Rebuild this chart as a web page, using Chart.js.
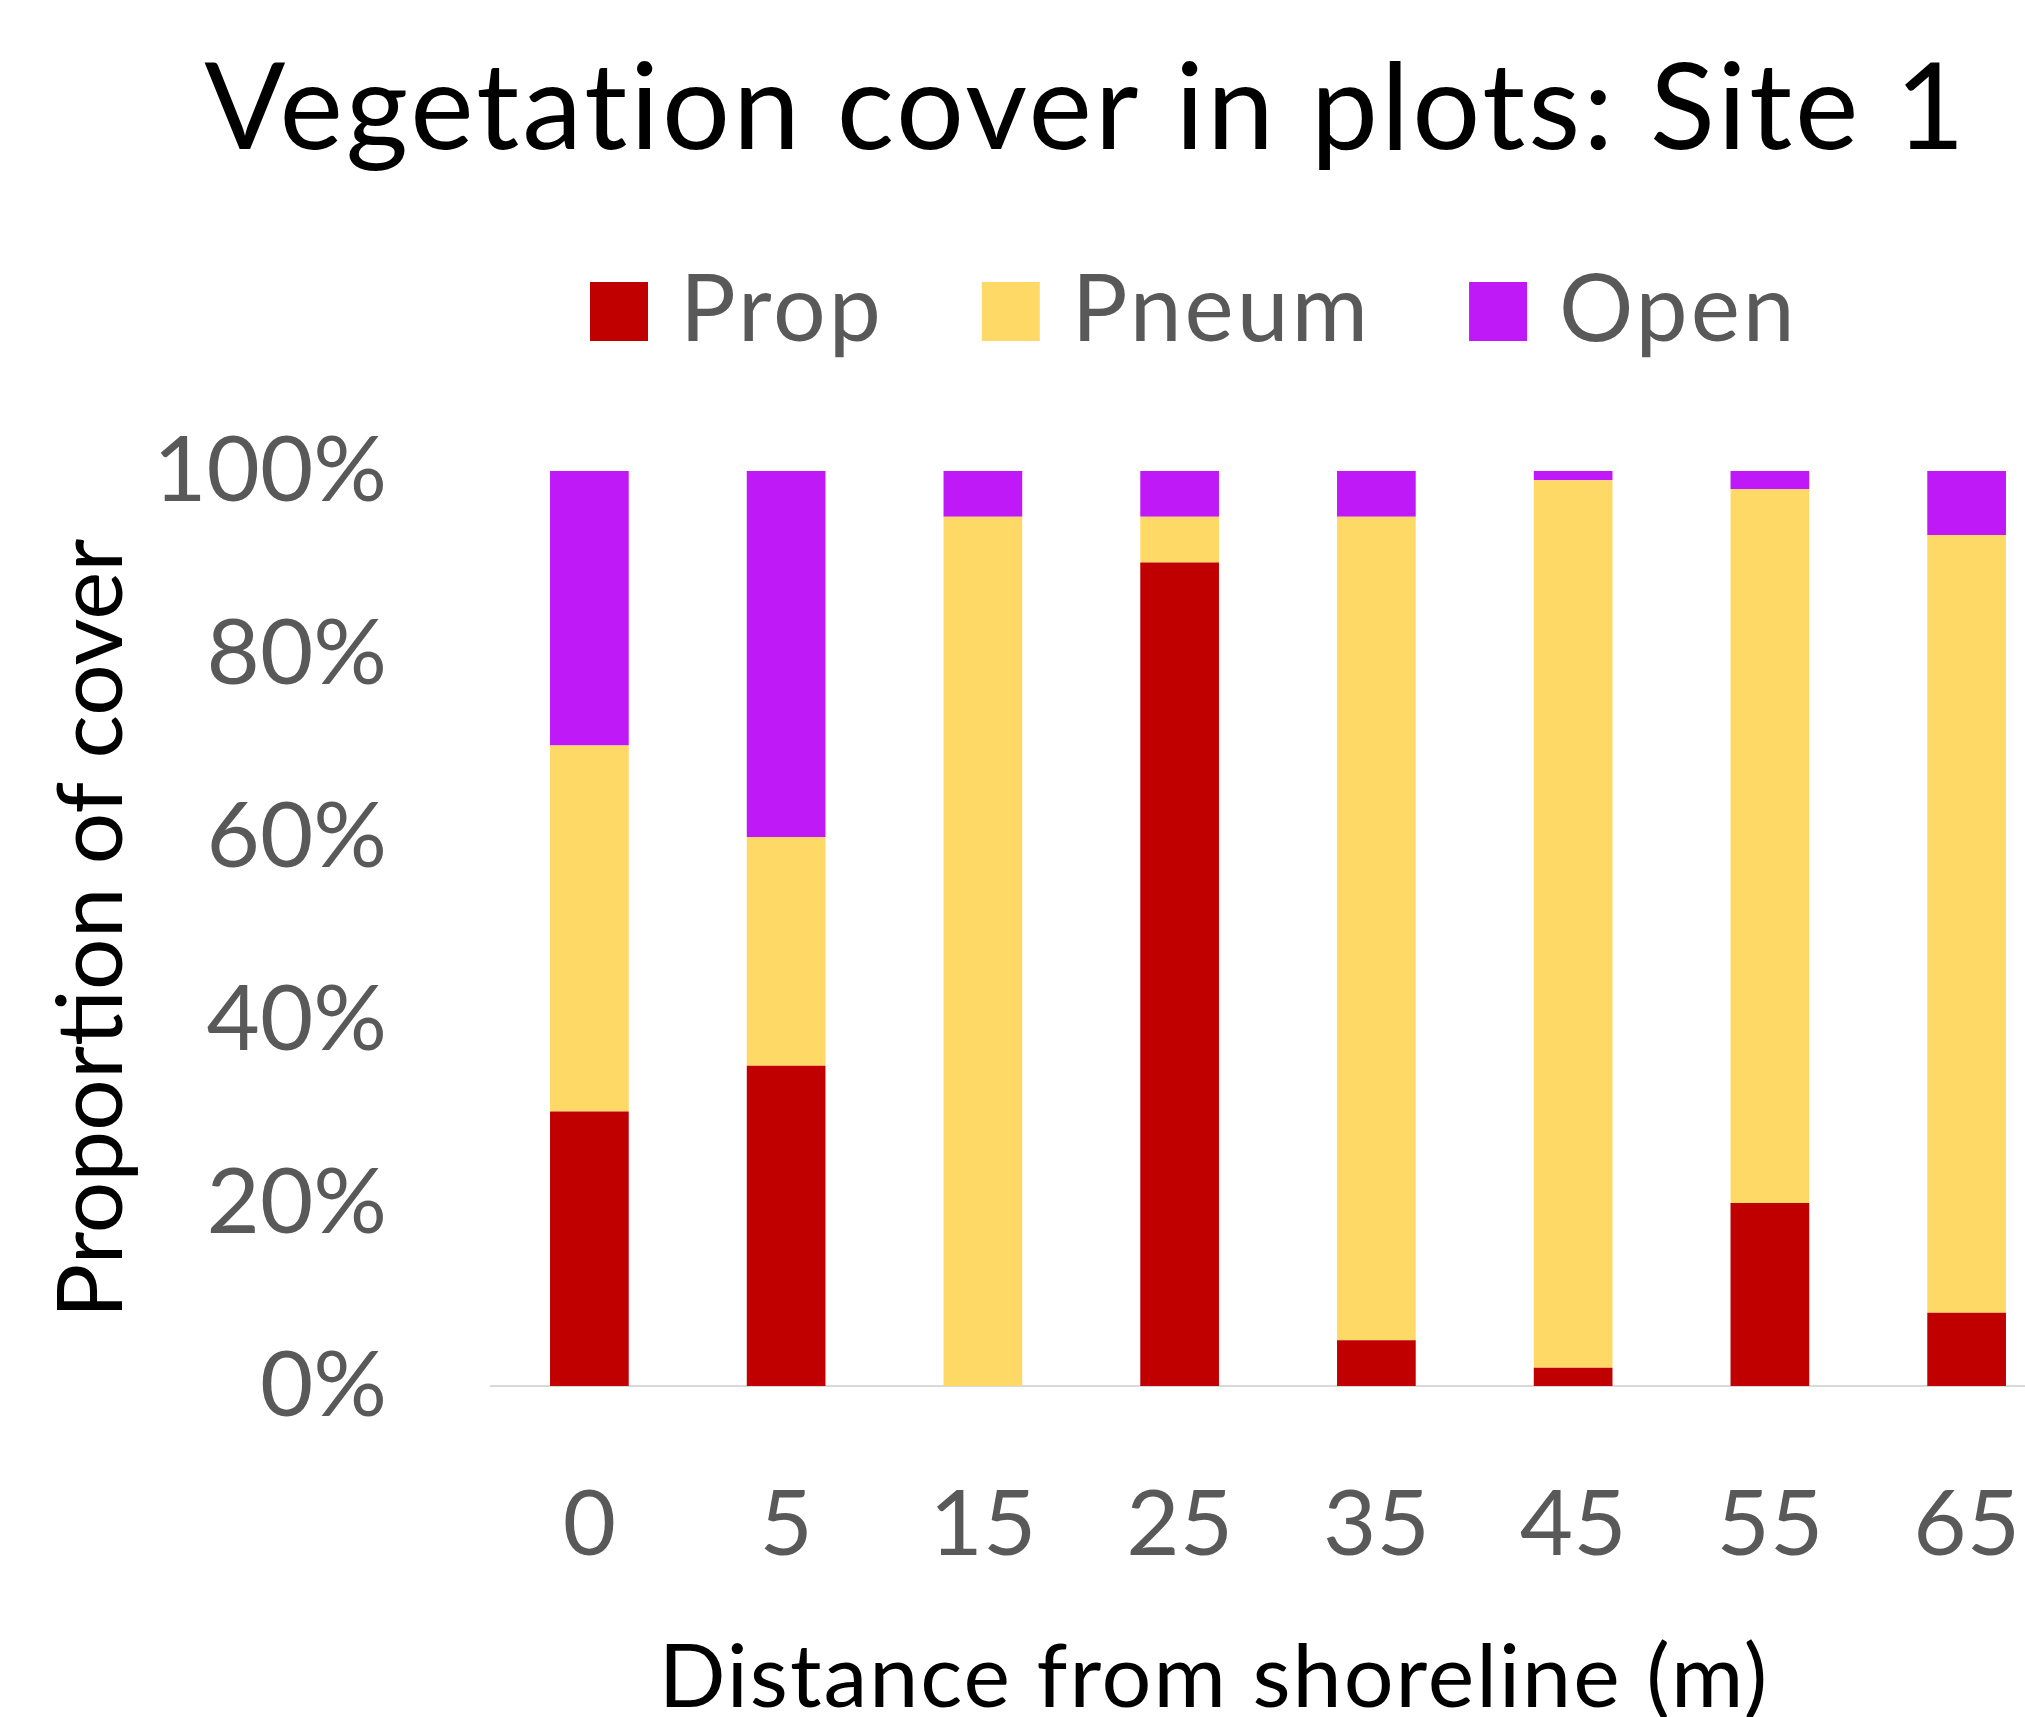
<!DOCTYPE html>
<html>
<head>
<meta charset="utf-8">
<title>Vegetation cover in plots: Site 1</title>
<script src="https://cdn.jsdelivr.net/npm/chart.js@4/dist/chart.umd.min.js"></script>
<style>
  html, body { margin: 0; padding: 0; background: #fff; }
  #wrap { width: 2025px; height: 1717px; overflow: hidden; position: relative; }
  #myChart { display: block; }
</style>
</head>
<body>
<div id="wrap"><canvas id="myChart" width="2100" height="1717"></canvas></div>
<script>
'use strict';

// distance from shoreline (m)
var distances = ['0', '5', '15', '25', '35', '45', '55', '65'];
// proportion of cover, percent
var propCover  = [30, 35, 0, 90, 5, 2, 20, 8];
var pneumCover = [40, 25, 95, 5, 90, 97, 78, 85];
var openCover  = [30, 40, 5, 5, 5, 1, 2, 7];
var yTicks = [0, 20, 40, 60, 80, 100];

var FONT = 'Lato, "Open Sans", sans-serif';

// title, legend and x axis title are placed by hand, Excel centres them differently
var textPlugin = {
  id: 'excelText',
  afterDraw: function (chart) {
    var ctx = chart.ctx;
    ctx.save();
    ctx.textBaseline = 'alphabetic';

    ctx.fillStyle = '#000';
    ctx.font = '120px ' + FONT;
    ctx.letterSpacing = '3px';
    ctx.textAlign = 'center';
    ctx.fillText('Vegetation cover in plots: Site 1', 1086, 149);

    // legend
    ctx.font = '93px ' + FONT;
    ctx.letterSpacing = '3px';
    ctx.textAlign = 'left';
    var x = 590;
    chart.data.datasets.forEach(function (ds) {
      ctx.fillStyle = ds.backgroundColor;
      ctx.fillRect(x, 282, 58, 59);
      x += 58 + 32;
      ctx.fillStyle = '#595959';
      ctx.fillText(ds.label, x, 341);
      x += ctx.measureText(ds.label).width + 98;
    });

    ctx.fillStyle = '#000';
    ctx.font = '88px ' + FONT;
    ctx.letterSpacing = '2px';
    ctx.textAlign = 'center';
    ctx.fillText('Distance from shoreline (m)', 1214, 1707);
    ctx.restore();
  }
};

var ctx = document.getElementById('myChart');
var myChart = new Chart(ctx, {
  type: 'bar',
  data: {
    labels: distances,
    datasets: [
      { label: 'Prop',  data: propCover,  backgroundColor: '#C00000' },
      { label: 'Pneum', data: pneumCover, backgroundColor: '#FFD966' },
      { label: 'Open',  data: openCover,  backgroundColor: '#BF19F7' }
    ]
  },
  options: {
    responsive: false,
    animation: false,
    devicePixelRatio: 1,
    layout: { padding: { left: 0, right: 35, top: 471, bottom: 0 } },
    datasets: { bar: { barPercentage: 0.4, categoryPercentage: 1.0 } },
    plugins: {
      legend: { display: false },
      title: { display: false },
      tooltip: { enabled: false }
    },
    scales: {
      x: {
        stacked: true,
        grid: { display: false, drawTicks: false },
        border: { display: true, color: '#D9D9D9', width: 2 },
        ticks: {
          color: '#595959',
          font: { family: FONT, size: 92, lineHeight: 1.42 },
          padding: 74,
          maxRotation: 0,
          autoSkip: false
        },
        afterFit: function (scale) { scale.height = 331; }
      },
      y: {
        stacked: true,
        min: 0,
        max: 100,
        grid: { display: false, drawTicks: false },
        border: { display: false },
        afterBuildTicks: function (scale) {
          scale.ticks = yTicks.map(function (v) { return { value: v }; });
        },
        ticks: {
          color: '#595959',
          font: { family: FONT, size: 92 },
          padding: 104,
          callback: function (v) { return v + '%'; }
        },
        title: {
          display: true,
          text: 'Proportion of cover',
          color: '#000',
          font: { family: FONT, size: 91 },
          padding: { top: 38, bottom: 0 }
        },
        afterFit: function (scale) { scale.width = 491; }
      }
    }
  },
  plugins: [textPlugin]
});
</script>
</body>
</html>
